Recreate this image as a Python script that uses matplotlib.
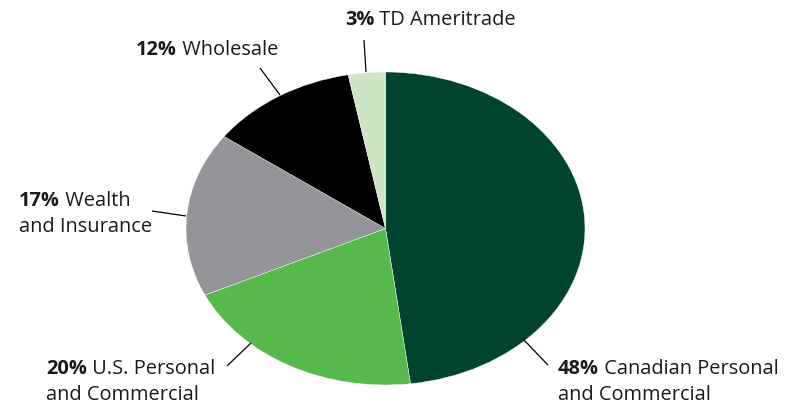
import matplotlib.pyplot as plt

plt.rcParams['font.family'] = ['Open Sans', 'DejaVu Sans']

segments = ['Canadian Personal\nand Commercial', 'U.S. Personal\nand Commercial',
            'Wealth\nand Insurance', 'Wholesale', 'TD Ameritrade']
shares = [48, 20, 17, 12, 3]
colors = ['#00432f', '#57b94b', '#939598', '#000000', '#cde5c4']

# label layout in pixels: text anchor (left, baseline of first line), leader line start/end
text_pos = [(558, 374), (46, 374), (19, 206), (136, 55), (345, 25)]
line_pts = [((548, 365), (523, 339)), ((227, 366), (251, 343)),
            ((152, 211), (186, 216)), ((260, 68), (280, 95)), ((364, 40), (366, 72))]

W, H = 795, 404
cx, cy, rx, ry = 385.5, 228.5, 199.5, 156.5

fig = plt.figure(figsize=(W / 100, H / 100), dpi=100)
ax = fig.add_axes([0, 0, 1, 1])

ax.pie(shares, colors=colors, startangle=90, counterclock=False, radius=1,
       wedgeprops=dict(linewidth=0.3, edgecolor='white'))
ax.set_aspect('auto')
ax.set_xlim(-cx / rx, (W - cx) / rx)
ax.set_ylim(-(H - cy) / ry, cy / ry)
ax.axis('off')


def px(x, y):
    return (x - cx) / rx, (cy - y) / ry


fs = 14.4
lh = 26
for pct, name, (tx, ty), (p0, p1) in zip(shares, segments, text_pos, line_pts):
    x0, y0 = px(*p0)
    x1, y1 = px(*p1)
    ax.plot([x0, x1], [y0, y1], color='black', lw=0.9, solid_capstyle='butt')
    lines = name.split('\n')
    bx, by = px(tx, ty)
    t = ax.text(bx, by, f'{pct}%', fontsize=fs, fontweight='bold', va='baseline', ha='left',
                color='#1a1a1a')
    ax.annotate(' ' + lines[0], xy=(1, 0), xycoords=t, va='bottom', ha='left',
                fontsize=fs, color='#1a1a1a')
    for i, extra in enumerate(lines[1:], start=1):
        ex, ey = px(tx, ty + lh * i)
        ax.text(ex, ey, extra, fontsize=fs, va='baseline', ha='left', color='#1a1a1a')

fig.savefig('out.png', dpi=100)
